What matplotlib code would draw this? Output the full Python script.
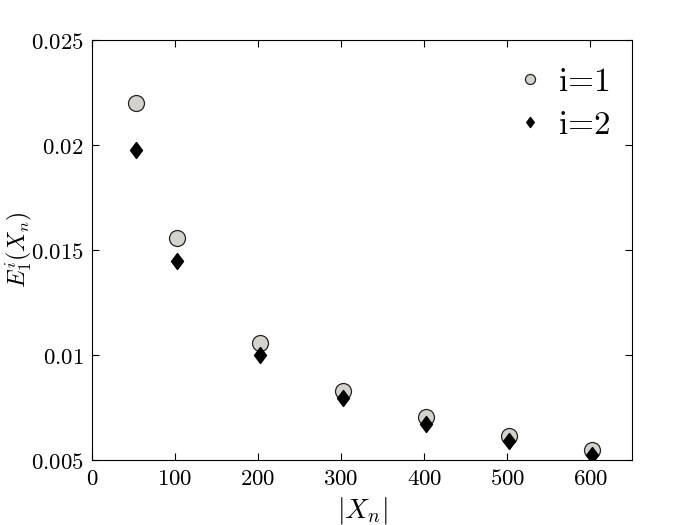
import matplotlib
matplotlib.use("Agg")
import matplotlib.pyplot as plt
from matplotlib.ticker import FixedLocator, FixedFormatter
from matplotlib.path import Path

plt.rcParams['mathtext.fontset'] = 'cm'
plt.rcParams['font.family'] = ['DejaVu Serif']
plt.rcParams['axes.formatter.use_mathtext'] = True

x_vals = [53, 102, 202, 302, 402, 502, 602]
err_i1 = [0.0220, 0.01557, 0.01057, 0.00829, 0.00705, 0.00614, 0.00550]
err_i2 = [0.01976, 0.01448, 0.0100, 0.00795, 0.00671, 0.00590, 0.00524]

xticks = [0, 100, 200, 300, 400, 500, 600]
xtick_labels = ['0', '100', '200', '300', '400', '500', '600']
yticks = [0.005, 0.01, 0.015, 0.02, 0.025]
ytick_labels = ['0.005', '0.01', '0.015', '0.02', '0.025']

diamond = Path([(0, 1), (0.75, 0), (0, -1), (-0.75, 0), (0, 1)],
               [Path.MOVETO, Path.LINETO, Path.LINETO, Path.LINETO, Path.CLOSEPOLY])

fig = plt.figure(figsize=(7, 5.25), dpi=100)
ax = fig.add_axes([0.1314, 0.1238, 0.7714, 0.8])

ax.plot(x_vals, err_i1, linestyle='none', marker='o', markersize=11.5,
        markerfacecolor='#d4d2cc', markeredgecolor='#222222', markeredgewidth=0.9,
        label='i=1')
ax.plot(x_vals, err_i2, linestyle='none', marker=diamond, markersize=11.5,
        markerfacecolor='black', markeredgecolor='black',
        label='i=2')

ax.set_xlim(0, 650)
ax.set_ylim(0.005, 0.025)
ax.xaxis.set_major_locator(FixedLocator(xticks))
ax.xaxis.set_major_formatter(FixedFormatter(['$' + t + '$' for t in xtick_labels]))
ax.yaxis.set_major_locator(FixedLocator(yticks))
ax.yaxis.set_major_formatter(FixedFormatter(['$' + t + '$' for t in ytick_labels]))
ax.tick_params(direction='in', top=True, right=True, length=5, width=0.8,
               labelsize=16.5, pad=6)
for s in ax.spines.values():
    s.set_linewidth(0.8)

ax.set_xlabel(r'$|X_n|$', fontsize=20, labelpad=3)
ax.set_ylabel(r'$E_1^i(X_n)$', fontsize=17, labelpad=1)
ax.yaxis.set_label_coords(-0.105, 0.5)

ax.legend(loc='upper right', frameon=False, prop={'family': 'cmr10', 'size': 24},
          markerscale=0.63, handlelength=0.76, handletextpad=0.5,
          labelspacing=0.42, borderpad=0.3, borderaxespad=0.4,
          bbox_to_anchor=(1.0 + 2 / 540, 1.0 - 4 / 420))

fig.savefig('out.png', dpi=100)
